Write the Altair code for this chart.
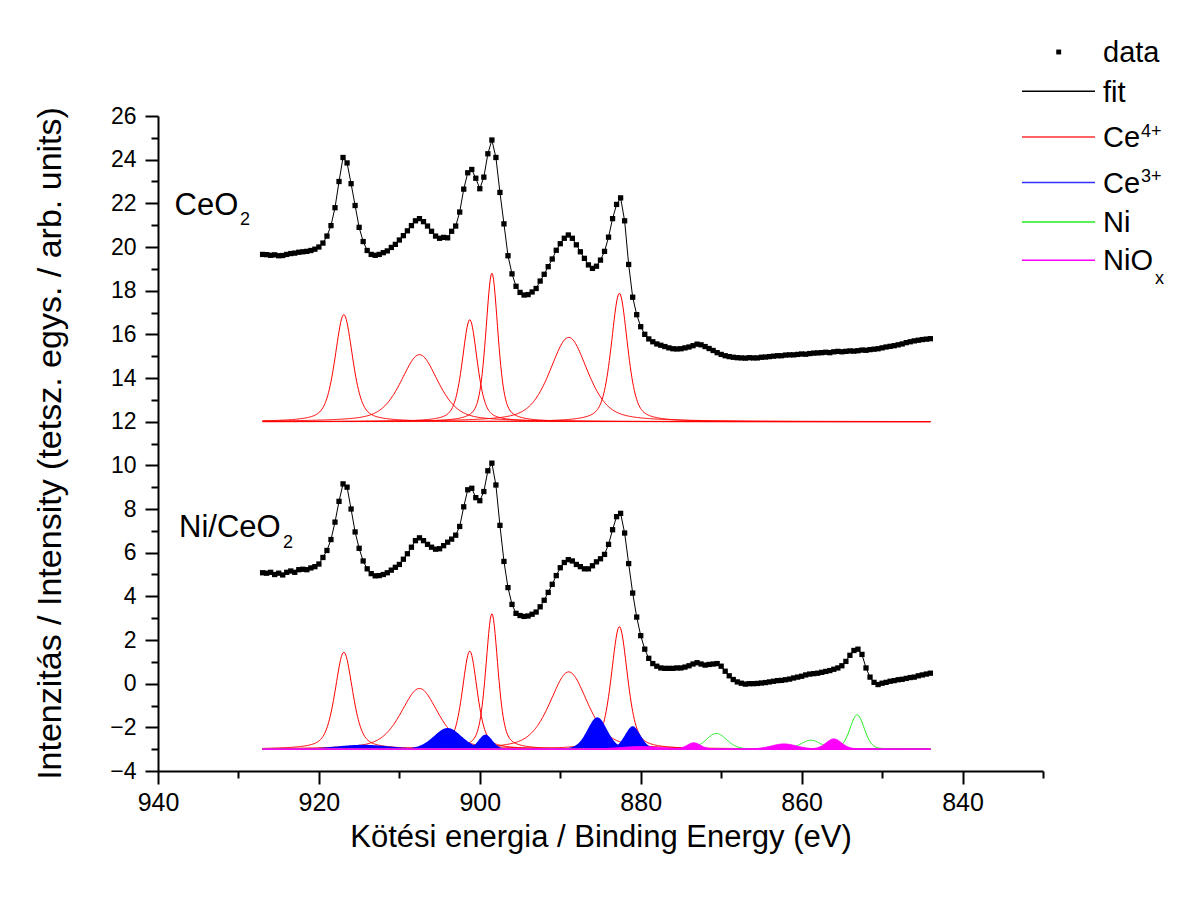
import numpy as np
import pandas as pd
import altair as alt

FONT = "Liberation Sans"

# ---------------- measured spectra (927 eV -> 844 eV, 0.5 eV step) ----------------
E_START = 927.0
E_STEP = 0.5
ceo2_intensity = [
    19.66, 19.65, 19.62, 19.64, 19.60, 19.61, 19.66, 19.70, 19.72, 19.76,
    19.78, 19.80, 19.84, 19.90, 20.00, 20.18, 20.50, 20.98, 21.80, 23.00,
    24.10, 23.85, 22.90, 21.90, 20.90, 20.25, 19.84, 19.66, 19.62, 19.66,
    19.74, 19.82, 19.98, 20.12, 20.32, 20.52, 20.74, 20.98, 21.20, 21.30,
    21.16, 20.96, 20.72, 20.50, 20.40, 20.44, 20.42, 20.72, 20.96, 21.60,
    22.65, 23.40, 23.55, 23.15, 22.67, 23.20, 24.27, 24.90, 24.10, 22.50,
    21.06, 19.60, 18.77, 18.20, 17.92, 17.80, 17.82, 17.94, 18.10, 18.44,
    18.75, 19.10, 19.45, 19.85, 20.15, 20.40, 20.55, 20.40, 20.10, 19.78,
    19.48, 19.18, 19.02, 19.12, 19.40, 19.80, 20.45, 21.30, 21.95, 22.25,
    21.20, 19.20, 17.70, 16.90, 16.35, 16.00, 15.79, 15.66, 15.56, 15.50,
    15.44, 15.38, 15.34, 15.33, 15.34, 15.38, 15.42, 15.48, 15.55, 15.52,
    15.44, 15.35, 15.26, 15.16, 15.08, 15.02, 14.98, 14.95, 14.93, 14.92,
    14.91, 14.93, 14.92, 14.92, 14.95, 14.96, 14.98, 15.00, 15.02, 15.02,
    15.05, 15.06, 15.06, 15.08, 15.10, 15.09, 15.12, 15.14, 15.15, 15.16,
    15.18, 15.16, 15.20, 15.22, 15.20, 15.22, 15.24, 15.23, 15.25, 15.28,
    15.27, 15.30, 15.32, 15.34, 15.38, 15.42, 15.45, 15.48, 15.52, 15.56,
    15.62, 15.66, 15.70, 15.73, 15.76, 15.78, 15.80,
]
ni_ceo2_intensity = [
    5.08, 5.06, 5.10, 5.00, 5.06, 4.98, 5.10, 5.16, 5.10, 5.22,
    5.24, 5.22, 5.30, 5.36, 5.48, 5.78, 6.10, 6.60, 7.40, 8.35,
    9.15, 9.00, 8.00, 6.95, 6.20, 5.62, 5.26, 5.04, 4.94, 4.95,
    5.00, 5.08, 5.20, 5.33, 5.46, 5.70, 5.95, 6.25, 6.55, 6.68,
    6.55, 6.38, 6.25, 6.16, 6.18, 6.32, 6.48, 6.62, 6.80, 7.20,
    8.10, 8.88, 8.95, 8.52, 8.38, 8.80, 9.75, 10.10, 9.10, 7.25,
    5.60, 4.40, 3.63, 3.22, 3.12, 3.08, 3.10, 3.18, 3.28, 3.52,
    3.82, 4.18, 4.55, 4.95, 5.31, 5.55, 5.68, 5.62, 5.46, 5.36,
    5.26, 5.26, 5.40, 5.58, 5.72, 5.92, 6.38, 7.05, 7.65, 7.80,
    6.90, 5.50, 4.15, 3.05, 2.20, 1.58, 1.16, 0.92, 0.80, 0.72,
    0.70, 0.70, 0.70, 0.72, 0.72, 0.76, 0.82, 0.90, 0.96, 0.90,
    0.85, 0.88, 0.90, 0.92, 0.80, 0.57, 0.36, 0.19, 0.08, 0.02,
    -0.02, 0.00, 0.00, 0.01, 0.03, 0.05, 0.08, 0.11, 0.14, 0.15,
    0.18, 0.21, 0.26, 0.30, 0.34, 0.40, 0.44, 0.46, 0.48, 0.52,
    0.56, 0.60, 0.66, 0.72, 0.82, 1.02, 1.30, 1.52, 1.58, 1.34,
    0.72, 0.30, 0.06, -0.04, 0.02, 0.06, 0.11, 0.14, 0.18, 0.20,
    0.24, 0.28, 0.30, 0.36, 0.40, 0.44, 0.48,
]

# ---------------- fitted components ----------------
top_baseline = 12.0
bottom_baseline = -3.0
ce4_center = [916.9, 907.5, 901.25, 898.5, 888.95, 882.65]
ce4_fwhm = [2.6, 5.5, 2.2, 1.8, 5.6, 2.4]
ce4_height_top = [4.9, 3.07, 4.67, 6.8, 3.86, 5.88]
ce4_height_bottom = [4.44, 2.78, 4.49, 6.2, 3.54, 5.61]
ce3_center = [914.5, 904.0, 899.3, 885.4, 881.0]
ce3_height = [0.2, 0.97, 0.67, 1.46, 1.05]
ce3_fwhm = [8.0, 4.1, 2.0, 2.9, 2.3]
ni_center = [870.6, 858.85, 853.1]
ni_height = [0.72, 0.41, 1.57]
ni_fwhm = [3.0, 2.9, 2.1]
niox_center = [880.0, 873.4, 862.2, 856.0]
niox_height = [0.12, 0.29, 0.24, 0.47]
niox_fwhm = [6.0, 2.0, 3.7, 2.3]

x_major = [940, 920, 900, 880, 860, 840]
x_minor = [930, 910, 890, 870, 850, 830]
y_major = list(range(-4, 27, 2))
y_minor = list(range(-3, 26, 2))

# ---------------- tables ----------------
n_pts = len(ceo2_intensity)
energy = [E_START - E_STEP * i for i in range(n_pts)]
spec = pd.concat([
    pd.DataFrame({"E": energy, "I": ceo2_intensity, "s": "CeO2"}),
    pd.DataFrame({"E": energy[:len(ni_ceo2_intensity)], "I": ni_ceo2_intensity, "s": "Ni/CeO2"}),
])

grid = np.arange(927.0, 843.95, -0.1)


def profile(c, h, w, mix):
    x = (grid - c) / w
    return h * ((1 - mix) * np.exp(-4 * np.log(2) * x * x) + mix / (1 + 4 * x * x))


rows = []
def add(kind, base, centers, heights, widths, mix):
    for k, (c, h, w) in enumerate(zip(centers, heights, widths)):
        rows.append(pd.DataFrame({"E": grid, "V": base + profile(c, h, w, mix),
                                  "base": base, "id": f"{kind}{base}{k}", "kind": kind}))

add("ce4", top_baseline, ce4_center, ce4_height_top, ce4_fwhm, 0.5)
add("ce4", bottom_baseline, ce4_center, ce4_height_bottom, ce4_fwhm, 0.5)
add("ce3", bottom_baseline, ce3_center, ce3_height, ce3_fwhm, 0.2)
add("ni", bottom_baseline, ni_center, ni_height, ni_fwhm, 0.2)
add("niox", bottom_baseline, niox_center, niox_height, niox_fwhm, 0.2)
comp = pd.concat(rows)

xs = alt.Scale(domain=[830, 940], reverse=True, nice=False, zero=False)
ys = alt.Scale(domain=[-4, 26], nice=False, zero=False)


def X(axis=None):
    return alt.X("E:Q", scale=xs, axis=axis)


def Y(axis=None, **kw):
    return alt.Y("V:Q", scale=ys, axis=axis, **kw)


ce4 = alt.Chart(comp[comp.kind == "ce4"]).mark_line(color="#ff0000", strokeWidth=1).encode(
    x=X(), y=Y(), detail="id:N")
ce3 = alt.Chart(comp[comp.kind == "ce3"]).mark_area(color="#0000ff", opacity=1).encode(
    x=X(), y=Y(stack=None), y2="base:Q", detail="id:N")
ni = alt.Chart(comp[comp.kind == "ni"]).mark_line(color="#22ee22", strokeWidth=1).encode(
    x=X(), y=Y(), detail="id:N")
niox_a = alt.Chart(comp[comp.kind == "niox"]).mark_area(color="#ff00ff", opacity=1).encode(
    x=X(), y=Y(stack=None), y2="base:Q", detail="id:N")
niox_l = alt.Chart(comp[comp.kind == "niox"]).mark_line(color="#ff00ff", strokeWidth=1).encode(
    x=X(), y=Y(), detail="id:N")

minor_x = alt.Axis(orient="bottom", values=x_minor, labels=False, domain=False, tickSize=7,
                   tickWidth=2, tickColor="black", grid=False, title=None)
minor_y = alt.Axis(orient="left", values=y_minor, labels=False, domain=False, tickSize=7,
                   tickWidth=2, tickColor="black", grid=False, title=None)
major_x = alt.Axis(orient="bottom", values=x_major, format="d", tickSize=13, tickWidth=2,
                   tickColor="black", domainColor="black", domainWidth=2, grid=False,
                   labelFont=FONT, labelFontSize=25, labelColor="black", labelPadding=6,
                   labelFlush=False, labelOverlap=False,
                   title="Kötési energia / Binding Energy (eV)", titleFont=FONT,
                   titleFontSize=31, titleFontWeight="normal", titleColor="black",
                   titleBaseline="alphabetic", titleY=75)
major_y = alt.Axis(orient="left", values=y_major, format="d", tickSize=13, tickWidth=2,
                   tickColor="black", domainColor="black", domainWidth=2, grid=False,
                   labelFont=FONT, labelFontSize=23, labelColor="black", labelPadding=9,
                   labelFlush=False, labelOverlap=False,
                   title="Intenzitás / Intensity (tetsz. egys. / arb. units)", titleFont=FONT,
                   titleFontSize=34, titleFontWeight="normal", titleColor="black",
                   titleAngle=270, titleAlign="center", titleBaseline="middle",
                   titleX=-108, titleY=327)

fit = alt.Chart(spec).mark_line(color="black", strokeWidth=1).encode(
    x=alt.X("E:Q", scale=xs, axis=minor_x), y=alt.Y("I:Q", scale=ys, axis=minor_y), detail="s:N")
pts = alt.Chart(spec).mark_square(size=28, color="black", opacity=1).encode(
    x=alt.X("E:Q", scale=xs, axis=major_x), y=alt.Y("I:Q", scale=ys, axis=major_y))

# sample labels (data coordinates)
ann = pd.DataFrame({
    "E": [937.94, 937.39], "V": [21.47, 6.70], "t": ["CeO", "Ni/CeO"],
})
ann_sub = pd.DataFrame({"E": [929.8, 924.46], "V": [20.99, 6.20], "t": ["2", "2"]})
labels = alt.Chart(ann).mark_text(align="left", baseline="alphabetic", font=FONT,
                                  fontSize=31, color="black").encode(
    x=X(), y=Y(), text="t:N")
labels_sub = alt.Chart(ann_sub).mark_text(align="left", baseline="alphabetic", font=FONT,
                                          fontSize=18, color="black").encode(
    x=X(), y=Y(), text="t:N")

# legend (pixel positions relative to the plot area)
leg_names = ["data", "fit", "Ce", "Ce", "Ni", "NiO"]
leg_colors = ["black", "black", "#ff3030", "#3030ff", "#22ee22", "#ff00ff"]
leg_line_y = [-64, -24.7, 21, 66.6, 106, 144.3]
leg_text_y = [-54, -14, 31, 76.6, 116, 154.3]
leg_tab = pd.DataFrame({"t": leg_names, "c": leg_colors, "ly": leg_line_y, "ty": leg_text_y})
leg_lines = alt.Chart(leg_tab.iloc[1:]).mark_rule(strokeWidth=1.5).encode(
    x=alt.value(864), x2=alt.value(937), y=alt.Y("ly:Q", scale=None, axis=None),
    color=alt.Color("c:N", scale=None, legend=None))
leg_sq = alt.Chart(leg_tab.iloc[:1]).mark_square(size=24, color="black", opacity=1).encode(
    x=alt.value(900.7), y=alt.Y("ly:Q", scale=None, axis=None))
leg_text = alt.Chart(leg_tab).mark_text(align="left", baseline="alphabetic", font=FONT,
                                        fontSize=29, color="black").encode(
    x=alt.value(945), y=alt.Y("ty:Q", scale=None, axis=None), text="t:N")
sup_tab = pd.DataFrame({"t": ["4+", "3+", "x"], "px": [983, 983, 997], "py": [20.5, 66, 167.6]})
leg_sup = alt.Chart(sup_tab).mark_text(align="left", baseline="alphabetic", font=FONT,
                                       fontSize=18, color="black").encode(
    x=alt.X("px:Q", scale=None, axis=None), y=alt.Y("py:Q", scale=None, axis=None), text="t:N")

chart = alt.layer(
    ce4, ce3, ni, niox_a, niox_l, fit, pts, labels, labels_sub,
    leg_lines, leg_sq, leg_text, leg_sup,
).resolve_axis(x="independent", y="independent").properties(
    width=885, height=655,
    autosize=alt.AutoSizeParams(type="none"),
    padding={"left": 150, "top": 108, "right": 130, "bottom": 110},
    background="white",
).configure_view(stroke=None)

chart.save("out.html", embed_options={"renderer": "svg", "actions": False})
